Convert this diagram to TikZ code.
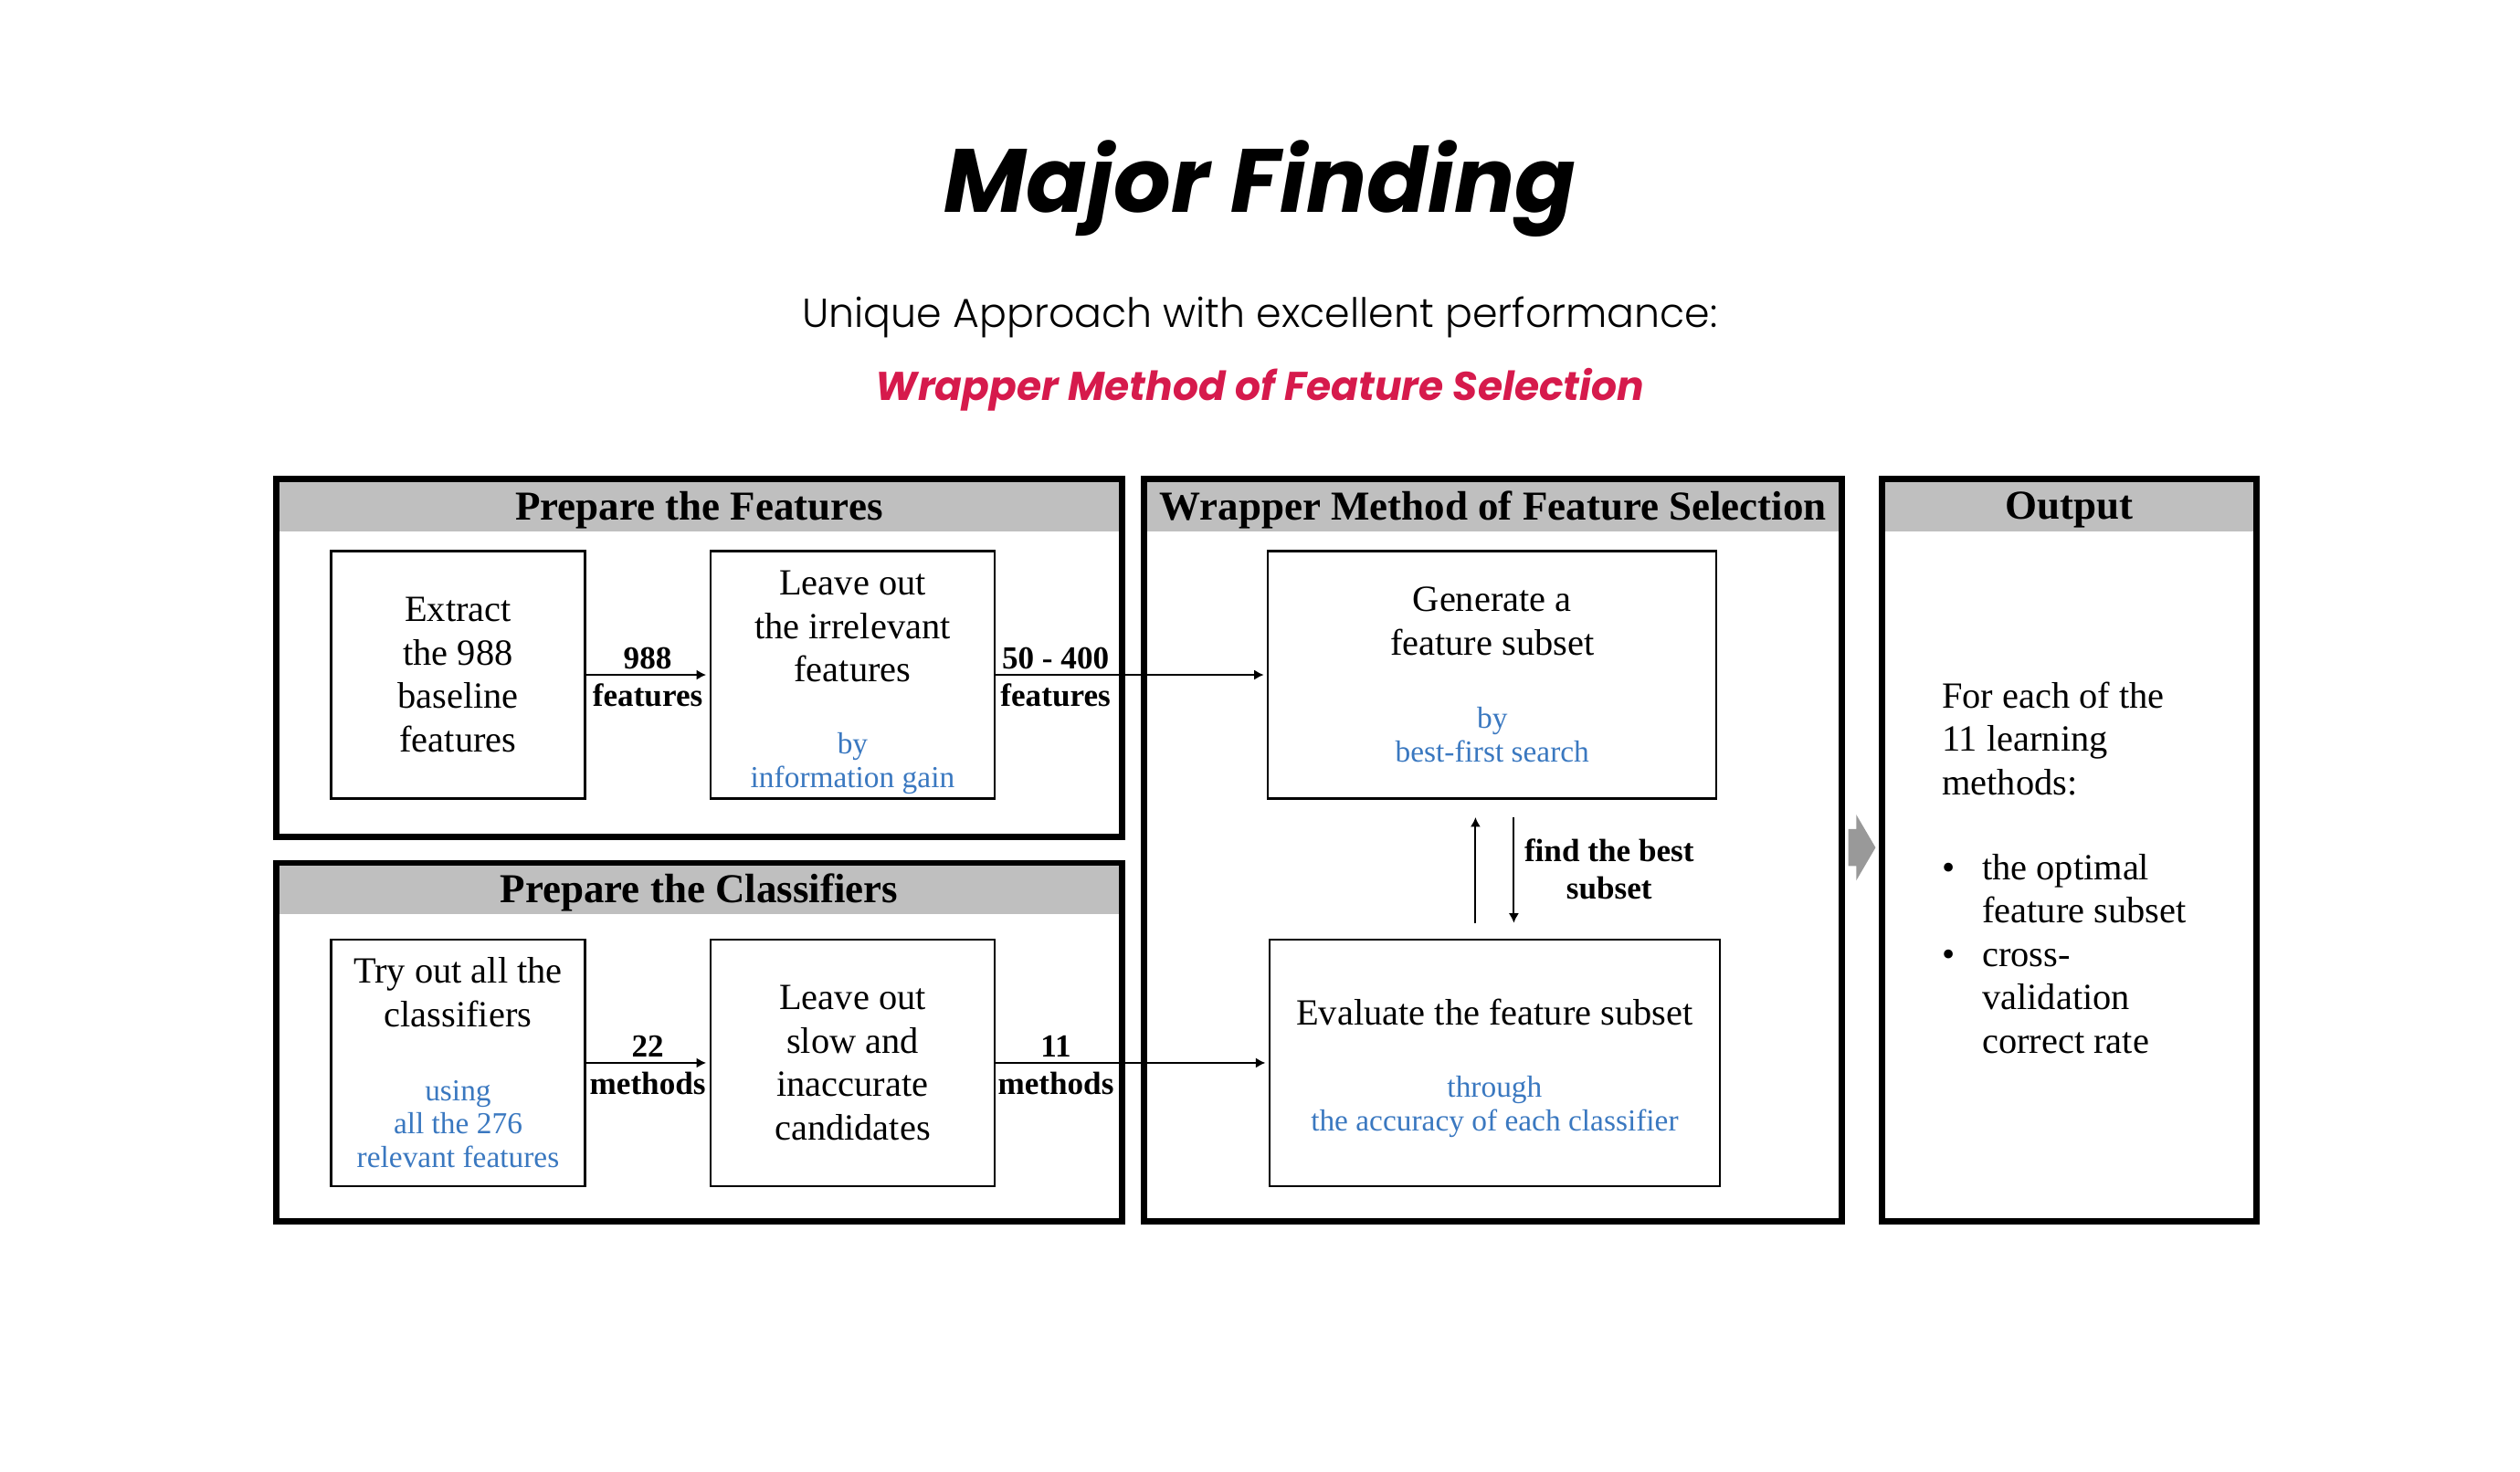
\documentclass[tikz,border=0pt]{standalone}
\usepackage{fontspec}
\setmainfont{Liberation Serif}
\newfontfamily\popfont{Poppins}
\newfontfamily\poplight{Poppins Light}
\usetikzlibrary{arrows.meta}
\definecolor{headgray}{RGB}{191,191,191}
\definecolor{notetext}{RGB}{58,120,192}
\definecolor{accent}{RGB}{214,26,76}
\definecolor{arrowgray}{RGB}{153,153,153}
\newcommand{\note}{\color{notetext}\fontsize{9.5}{10.5}\selectfont}
\tikzset{
  panel/.style={draw, line width=1.9pt, inner sep=0pt},
  header/.style={fill=headgray, inner sep=0pt, text depth=0pt, font=\bfseries\fontsize{12.8}{14}\selectfont},
  stepbox/.style={draw, line width=0.6pt, inner sep=0pt, align=center, font=\fontsize{11.5}{13.5}\selectfont},
  conn/.style={line width=0.6pt, -{Latex[length=3pt,width=3.2pt]}, shorten >=1pt},
  count/.style={font=\bfseries\fontsize{10}{11.5}\selectfont, inner sep=1.5pt, align=center},
}
\begin{document}
\begin{tikzpicture}[x=0.017596cm, y=-0.017596cm]
\useasboundingbox (0,0) rectangle (1568,916);
% titles
\node[anchor=base, font=\popfont\bfseries\itshape\fontsize{28}{32}\selectfont] (title) at (784,132) {Major Finding};
\node[anchor=base, font=\poplight\fontsize{12.6}{14}\selectfont] (subtitle) at (784,204) {Unique Approach with excellent performance:};
\node[anchor=base, text=accent, font=\popfont\bfseries\itshape\fontsize{12.5}{14}\selectfont] (method) at (784,249) {Wrapper Method of Feature Selection};

% panels: gray header bands first, borders on top
\node[header, minimum width=9.256cm, minimum height=0.581cm] (feathead) at (435,314.5) {Prepare the Features};
\node[panel, minimum width=9.256cm, minimum height=3.924cm] (featpanel) at (435,409.5) {};
\node[header, minimum width=9.256cm, minimum height=0.563cm] (clfhead) at (435,553) {Prepare the Classifiers};
\node[panel, minimum width=9.256cm, minimum height=3.924cm] (clfpanel) at (435,648.5) {};
\node[header, minimum width=7.637cm, minimum height=0.581cm] (wraphead) at (929,314.5) {Wrapper Method of Feature Selection};
\node[panel, minimum width=7.637cm, minimum height=8.129cm] (wrappanel) at (929,529) {};
\node[header, minimum width=4.100cm, minimum height=0.581cm] (outhead) at (1287.5,314.5) {Output};
\node[panel, minimum width=4.100cm, minimum height=8.129cm] (outpanel) at (1287.5,529) {};

% steps
\node[stepbox, minimum width=2.780cm, minimum height=2.710cm] (extract) at (285,420) {Extract\\the 988\\baseline\\features};
\node[stepbox, minimum width=3.115cm, minimum height=2.710cm] (irrel) at (530.5,420) {\rule{0pt}{12.4pt}Leave out\\the irrelevant\\features\\[9pt]{\note by}\\[-3pt]{\note information gain}};
\node[stepbox, minimum width=2.780cm, minimum height=2.692cm] (trycls) at (285,661.5) {Try out all the\\classifiers\\[9.5pt]{\note using}\\[-3pt]{\note all the 276}\\[-3pt]{\note relevant features}};
\node[stepbox, minimum width=3.115cm, minimum height=2.692cm] (slowcls) at (530.5,661.5) {Leave out\\slow and\\inaccurate\\candidates};
\node[stepbox, minimum width=4.909cm, minimum height=2.710cm] (generate) at (928.5,420) {Generate a\\feature subset\\[9.5pt]{\note by}\\[-3pt]{\note best-first search}};
\node[stepbox, minimum width=4.927cm, minimum height=2.692cm] (evaluate) at (930,661.5) {\rule{0pt}{11.4pt}Evaluate the feature subset\\[9pt]{\note through}\\[-3pt]{\note the accuracy of each classifier}};

% connectors
\draw[conn] (extract) -- node[count, above]{988} node[count, below, inner sep=2.5pt]{features} (irrel);
\draw[conn] (irrel) -- node[count, above, pos=0.22]{50 - 400} node[count, below, inner sep=2.5pt, pos=0.22]{features} (generate);
\draw[conn] (trycls) -- node[count, above]{22} node[count, below, inner sep=2.5pt]{methods} (slowcls);
\draw[conn] (slowcls) -- node[count, above, pos=0.22]{11} node[count, below, inner sep=2.5pt, pos=0.22]{methods} (evaluate);
\draw[conn, shorten <=5pt, shorten >=5.5pt] ([xshift=-0.21cm]evaluate.north) -- ([xshift=-0.21cm]evaluate.north |- generate.south);
\draw[conn, shorten <=5.5pt, shorten >=5pt] ([xshift=0.21cm]evaluate.north |- generate.south) -- node[count, right, inner sep=3pt]{find the best\\subset} ([xshift=0.21cm]evaluate.north);

% hand-off to output
\fill[arrowgray] (1150,516) -- (1155,516) -- (1155,507) -- (1167,527.5) -- (1155,548) -- (1155,539) -- (1150,539) -- cycle;

% output
\node[anchor=west, align=left, inner sep=0pt, font=\fontsize{11.5}{13.5}\selectfont] (summary) at (1208,540)
  {For each of the\\11 learning\\methods:\\[13pt]\makebox[12.5pt][l]{\textbullet}the optimal\\\hspace*{12.5pt}feature subset\\\makebox[12.5pt][l]{\textbullet}cross-\\\hspace*{12.5pt}validation\\\hspace*{12.5pt}correct rate};
\end{tikzpicture}
\end{document}
